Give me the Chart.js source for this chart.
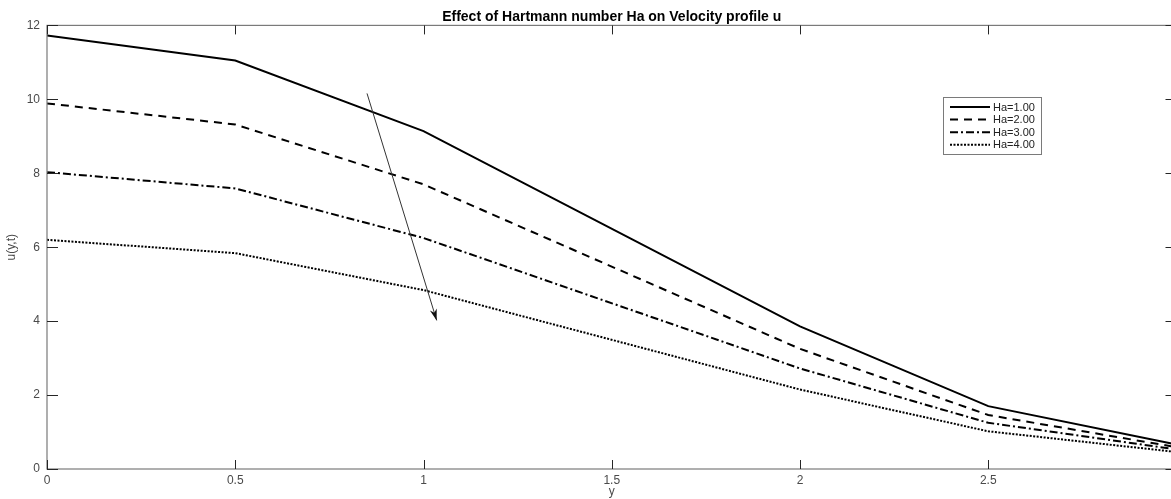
<!DOCTYPE html>
<html>
<head>
<meta charset="utf-8">
<script src="https://cdn.jsdelivr.net/npm/chart.js@4.4.1/dist/chart.umd.min.js"></script>
<style>
  html, body { margin: 0; padding: 0; background: #fff; overflow: hidden; }
  #wrap { position: relative; width: 1180px; height: 499px; }
</style>
</head>
<body>
<div id="wrap"><canvas id="chart" width="1180" height="499"></canvas></div>
<script>
// y positions across the channel
const yPos = [0, 0.5, 1, 2, 2.5, 3];

// velocity u(y,t) for each Hartmann number
const uHa1 = [11.73, 11.05, 9.14, 3.86, 1.70, 0.66];
const uHa2 = [9.89, 9.32, 7.70, 3.25, 1.46, 0.59];
const uHa3 = [8.03, 7.59, 6.25, 2.72, 1.25, 0.53];
const uHa4 = [6.20, 5.84, 4.84, 2.15, 1.02, 0.46];

const seriesLabels = ['Ha=1.00', 'Ha=2.00', 'Ha=3.00', 'Ha=4.00'];
const seriesDash = [[], [8, 6], [8, 3, 2, 3], [2, 1.5]];

// arrow showing increasing Ha, in data units
const arrowFrom = { x: 0.85, y: 10.16 };
const arrowTo = { x: 1.035, y: 4.02 };

const FONT = "'Liberation Sans', Arial, sans-serif";
const AXIS_GREY = '#262626';
const TEXT_GREY = '#4a4a4a';

const toPoints = vals => vals.map((v, i) => ({ x: yPos[i], y: v }));

const datasets = [uHa1, uHa2, uHa3, uHa4].map((vals, i) => ({
  label: seriesLabels[i],
  data: toPoints(vals),
  borderColor: '#000',
  backgroundColor: '#000',
  borderWidth: 2,
  borderDash: seriesDash[i],
  pointRadius: 0,
  tension: 0,
  fill: false,
}));

// center the title over the plot box rather than the whole canvas
const titleOverAxes = {
  id: 'titleOverAxes',
  afterLayout(chart) {
    const t = chart.titleBlock, a = chart.chartArea;
    if (!t) return;
    t.left = a.left;
    t.right = a.right;
    t.width = a.right - a.left;
  }
};

// MATLAB-like box with inward ticks on all four sides
const boxAxes = {
  id: 'boxAxes',
  afterDatasetsDraw(chart) {
    const { ctx, chartArea: a, scales: { x, y } } = chart;
    ctx.save();
    ctx.strokeStyle = '#7a7a7a';
    ctx.lineWidth = 1.2;
    ctx.strokeRect(a.left, a.top, a.right - a.left, a.bottom - a.top);
    ctx.strokeStyle = AXIS_GREY;
    ctx.lineWidth = 1;
    ctx.beginPath();
    x.ticks.forEach(t => {
      const px = Math.round(x.getPixelForValue(t.value)) + 0.5;
      ctx.moveTo(px, a.bottom); ctx.lineTo(px, a.bottom - 9);
      ctx.moveTo(px, a.top); ctx.lineTo(px, a.top + 9);
    });
    y.ticks.forEach(t => {
      const py = Math.round(y.getPixelForValue(t.value)) + 0.5;
      ctx.moveTo(a.left, py); ctx.lineTo(a.left + 11, py);
      ctx.moveTo(a.right, py); ctx.lineTo(a.right - 11, py);
    });
    ctx.stroke();

    // arrow
    const x0 = x.getPixelForValue(arrowFrom.x), y0 = y.getPixelForValue(arrowFrom.y);
    const x1 = x.getPixelForValue(arrowTo.x), y1 = y.getPixelForValue(arrowTo.y);
    const ang = Math.atan2(y1 - y0, x1 - x0);
    ctx.strokeStyle = '#333';
    ctx.fillStyle = '#111';
    ctx.lineWidth = 1;
    ctx.beginPath();
    ctx.moveTo(x0, y0); ctx.lineTo(x1, y1);
    ctx.stroke();
    ctx.beginPath();
    ctx.moveTo(x1, y1);
    ctx.lineTo(x1 - 12 * Math.cos(ang - 0.3), y1 - 12 * Math.sin(ang - 0.3));
    ctx.lineTo(x1 - 8 * Math.cos(ang), y1 - 8 * Math.sin(ang));
    ctx.lineTo(x1 - 12 * Math.cos(ang + 0.3), y1 - 12 * Math.sin(ang + 0.3));
    ctx.closePath();
    ctx.fill();
    ctx.restore();
  }
};

// legend box drawn inside the axes, upper right
const boxLegend = {
  id: 'boxLegend',
  afterDraw(chart) {
    const { ctx } = chart;
    const left = 943, top = 97, w = 98, h = 57, rowH = 12.6;
    ctx.save();
    ctx.fillStyle = '#fff';
    ctx.fillRect(left, top, w, h);
    ctx.strokeStyle = '#7a7a7a';
    ctx.lineWidth = 1;
    ctx.strokeRect(left + 0.5, top + 0.5, w, h);
    ctx.font = '11px ' + FONT;
    ctx.textBaseline = 'middle';
    chart.data.datasets.forEach((ds, i) => {
      const ry = top + 10 + i * rowH;
      ctx.strokeStyle = '#000';
      ctx.lineWidth = 2;
      ctx.setLineDash(ds.borderDash);
      ctx.beginPath();
      ctx.moveTo(950, ry); ctx.lineTo(990, ry);
      ctx.stroke();
      ctx.setLineDash([]);
      ctx.fillStyle = '#222';
      ctx.fillText(ds.label, 993, ry + 0.5);
    });
    ctx.restore();
  }
};

new Chart(document.getElementById('chart'), {
  type: 'line',
  data: { datasets },
  options: {
    responsive: false,
    animation: false,
    layout: { padding: { left: 0, right: 3.5, top: 0, bottom: 0 } },
    plugins: {
      legend: { display: false },
      tooltip: { enabled: false },
      title: {
        display: true,
        text: 'Effect of Hartmann number Ha on Velocity profile u',
        color: '#000',
        font: { family: FONT, size: 14, weight: 'bold' },
        padding: { top: 8.6, bottom: 0 },
      },
    },
    scales: {
      x: {
        type: 'linear',
        min: 0,
        max: 3,
        grid: { display: false, drawTicks: false },
        border: { display: false },
        ticks: {
          stepSize: 0.5, color: TEXT_GREY, padding: 4, maxRotation: 0,
          font: { family: FONT, size: 12 },
          callback: v => String(v),
        },
        title: { display: true, text: 'y', color: TEXT_GREY, padding: { top: 0, bottom: 0 }, font: { family: FONT, size: 12 } },
        afterFit: s => { s.height = 30; s.paddingLeft = 0; s.paddingRight = 0; },
      },
      y: {
        min: 0,
        max: 12,
        grid: { display: false, drawTicks: false },
        border: { display: false },
        ticks: { stepSize: 2, color: TEXT_GREY, padding: 7, font: { family: FONT, size: 12 } },
        title: { display: true, text: 'u(y,t)', color: TEXT_GREY, padding: { top: 4, bottom: 0 }, font: { family: FONT, size: 12 } },
        afterFit: s => { s.width = 47; s.paddingTop = 0; s.paddingBottom = 0; },
      },
    },
  },
  plugins: [titleOverAxes, boxAxes, boxLegend],
});
</script>
</body>
</html>
